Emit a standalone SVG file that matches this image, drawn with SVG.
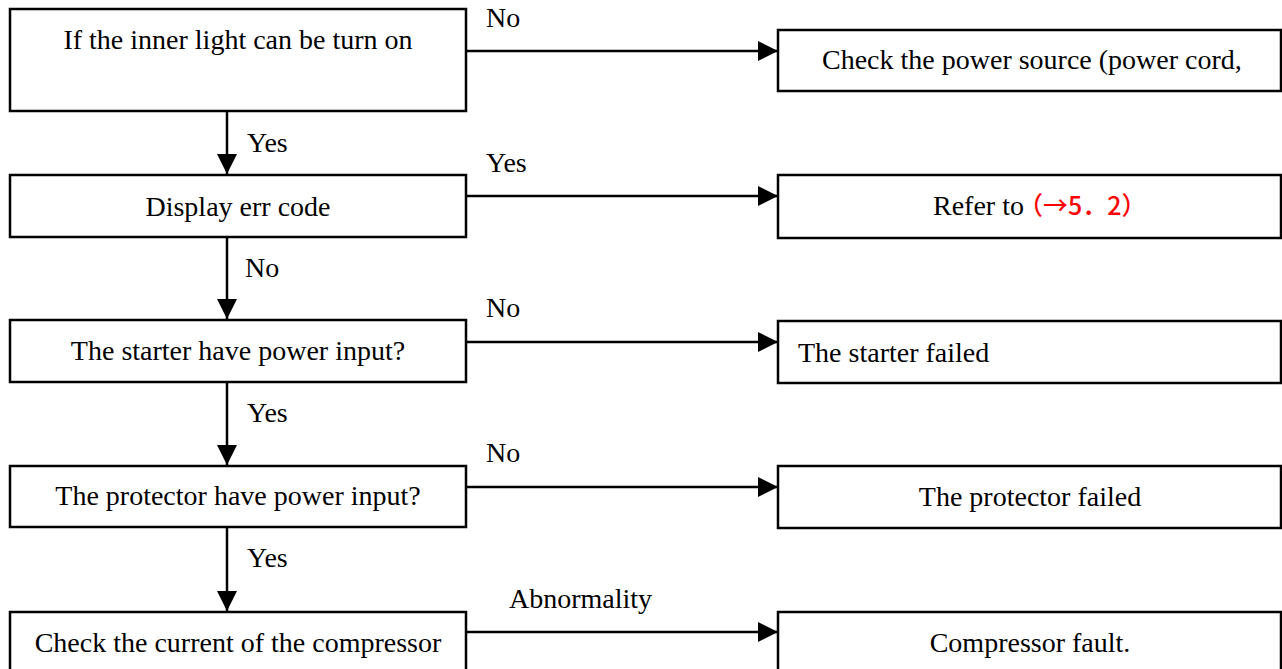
<svg xmlns="http://www.w3.org/2000/svg" width="1282" height="669" viewBox="0 0 1282 669">
<defs>
<marker id="ah" markerWidth="20" markerHeight="20" viewBox="0 0 20 20" refX="20" refY="10" orient="auto" markerUnits="userSpaceOnUse">
<path d="M0,0 L20,10 L0,20 Z" fill="#000"/>
</marker>
<style>
.box{fill:#fff;stroke:#000;stroke-width:2.5}
.t{font-family:"Liberation Serif","Times New Roman",serif;font-size:28px;fill:#000}
.c{text-anchor:middle}
.ln{stroke:#000;stroke-width:2.5;fill:none;marker-end:url(#ah)}
.red{font-family:"Noto Sans CJK SC",sans-serif;font-size:25px;font-weight:500;fill:#ff0000}
</style>
</defs>
<rect width="1282" height="669" fill="#fff"/>
<g id="n1"><rect class="box" x="10" y="9" width="456" height="102"/><text class="t c" x="238" y="49">If the inner light can be turn on</text></g>
<g id="n1r"><rect class="box" x="778" y="30" width="503" height="61"/><text class="t" x="822" y="69">Check the power source (power cord,</text></g>
<g id="n2"><rect class="box" x="10" y="175" width="456" height="62"/><text class="t c" x="238" y="216">Display err code</text></g>
<g id="n2r"><rect class="box" x="778" y="175" width="503" height="63"/><text class="t" x="933" y="215">Refer to<tspan class="red" dx="-6">（→5．2）</tspan></text></g>
<g id="n3"><rect class="box" x="10" y="320" width="456" height="62"/><text class="t c" x="238" y="360">The starter have power input?</text></g>
<g id="n3r"><rect class="box" x="778" y="321" width="503" height="62"/><text class="t" x="798" y="362">The starter failed</text></g>
<g id="n4"><rect class="box" x="10" y="466" width="456" height="61"/><text class="t c" x="238" y="505">The protector have power input?</text></g>
<g id="n4r"><rect class="box" x="778" y="466" width="503" height="62"/><text class="t c" x="1030" y="506">The protector failed</text></g>
<g id="n5"><rect class="box" x="10" y="612" width="456" height="70"/><text class="t c" x="238" y="652">Check the current of the compressor</text></g>
<g id="n5r"><rect class="box" x="778" y="612" width="503" height="70"/><text class="t c" x="1030" y="652">Compressor fault.</text></g>
<g id="connectors">
<line class="ln" x1="466" y1="51" x2="778" y2="51"/>
<line class="ln" x1="466" y1="196" x2="778" y2="196"/>
<line class="ln" x1="466" y1="342" x2="778" y2="342"/>
<line class="ln" x1="466" y1="487" x2="778" y2="487"/>
<line class="ln" x1="466" y1="632" x2="778" y2="632"/>
<line class="ln" x1="227" y1="111" x2="227" y2="174"/>
<line class="ln" x1="227" y1="237" x2="227" y2="319"/>
<line class="ln" x1="227" y1="382" x2="227" y2="465"/>
<line class="ln" x1="227" y1="527" x2="227" y2="611"/>
<text class="t" x="486" y="27">No</text>
<text class="t" x="247" y="152">Yes</text>
<text class="t" x="486" y="172">Yes</text>
<text class="t" x="245" y="277">No</text>
<text class="t" x="486" y="317">No</text>
<text class="t" x="247" y="422">Yes</text>
<text class="t" x="486" y="462">No</text>
<text class="t" x="247" y="567">Yes</text>
<text class="t" x="509" y="608">Abnormality</text>
</g>
</svg>
